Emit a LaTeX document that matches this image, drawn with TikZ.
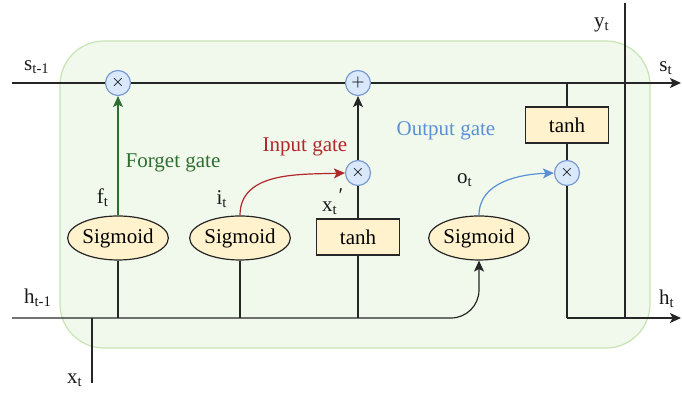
\documentclass[tikz,border=0pt]{standalone}
\usepackage{fontspec}
\setmainfont{Liberation Serif}
\usetikzlibrary{arrows.meta,shapes.geometric}
\definecolor{cellfill}{HTML}{F0F9EC}
\definecolor{celldraw}{HTML}{C8E4B4}
\definecolor{opfill}{HTML}{DAE8FC}
\definecolor{opdraw}{HTML}{7B9BD0}
\definecolor{actfill}{HTML}{FFF2CC}
\definecolor{fgreen}{HTML}{2E6E30}
\definecolor{ired}{HTML}{B0282A}
\definecolor{oblue}{HTML}{5B91D4}
\begin{document}
\begin{tikzpicture}[x=0.5pt,y=-0.5pt, font=\fontsize{10.5}{12}\selectfont,
 line/.style={line width=0.6pt, draw=black!85},
 arr/.style={-{Stealth[length=5.5pt,width=5pt,inset=1.3pt]}},
 op/.style={circle, draw=opdraw, fill=opfill, line width=0.6pt, minimum size=12.5pt, inner sep=0pt, font=\fontsize{8.5}{9}\selectfont},
 sig/.style={ellipse, draw=black!85, fill=actfill, line width=0.6pt, minimum width=44pt, minimum height=22pt, inner sep=0pt},
 act/.style={rectangle, draw=black!85, fill=actfill, line width=0.6pt, minimum width=41.5pt, minimum height=18pt, inner sep=0pt},
 lbl/.style={inner sep=0pt, text=black!90},
 gatelbl/.style={inner sep=0pt, font=\fontsize{10.5}{12}\selectfont}]
\useasboundingbox (0,0) rectangle (682,394);
\draw[draw=celldraw, fill=cellfill, rounded corners=22pt, line width=0.6pt] (60,41) rectangle (650,348);

% coordinates
\coordinate (sin) at (12,83);
\coordinate (sout) at (681,83);
\coordinate (hin) at (12,318);
\coordinate (hout) at (681,318);
\coordinate (xin) at (92,383);
\coordinate (xj) at (92,318);
\coordinate (j1) at (118,318);
\coordinate (j2) at (240,318);
\coordinate (j3) at (358,318);
\coordinate (tj) at (567,83);
\coordinate (bj) at (567,318);
\coordinate (ytop) at (625,3);
\coordinate (ybot) at (625,318);

% nodes
\node[op] (mulF) at (118,83) {$\times$};
\node[op] (plus) at (358,83) {$+$};
\node[op] (mulI) at (358,173) {$\times$};
\node[op] (mulO) at (567,173) {$\times$};
\node[act] (tanhT) at (567,125) {tanh};
\node[act] (tanhI) at (358,237) {tanh};
\node[sig] (sig1) at (118,238) {Sigmoid};
\node[sig] (sig2) at (240,238) {Sigmoid};
\node[sig] (sig3) at (479,238) {Sigmoid};

% main lines
\draw[line] (sin) -- (mulF) -- (plus);
\draw[line,arr] (plus) -- (sout);
\draw[line,arr,rounded corners=14pt] (hin) -| (sig3.south);
\draw[line] (xj) -- (xin);
\draw[line] (sig1.south) -- (j1);
\draw[line] (sig2.south) -- (j2);
\draw[line] (tanhI.south) -- (j3);
\draw[line] (tanhI.north) -- (mulI.south);
\draw[line,arr] (mulI.north) -- (plus.south);
\draw[line] (tj) -- (tanhT.north);
\draw[line] (tanhT.south) -- (mulO.north);
\draw[line] (mulO.south) -- (bj);
\draw[line,arr] (bj) -- (hout);
\draw[line] (ytop) -- (ybot);

% gates
\draw[line width=0.6pt, draw=fgreen, arr] (sig1.north) -- (mulF.south);
\draw[line width=0.6pt, draw=ired, arr] (sig2.north) to[out=90,in=182] (mulI.west);
\draw[line width=0.6pt, draw=oblue, arr] (sig3.north) to[out=90,in=182] (mulO.west);

% labels
\node[lbl] (ls1) at (37,67) {s\textsubscript{t-1}};
\node[lbl] (lh1) at (38,298) {h\textsubscript{t-1}};
\node[lbl] (lx) at (75,380) {x\textsubscript{t}};
\node[lbl] (ly) at (602,25) {y\textsubscript{t}};
\node[lbl] (ls) at (666,68) {s\textsubscript{t}};
\node[lbl] (lh) at (667,299) {h\textsubscript{t}};
\node[lbl] (lf) at (103,198) {f\textsubscript{t}};
\node[lbl] (li) at (222,199) {i\textsubscript{t}};
\node[lbl] (lo) at (465,180) {o\textsubscript{t}};
\node[lbl] (lxt) at (330,208) {x\textsubscript{t}};
\node[lbl] (lprime) at (341,196) {′};
\node[gatelbl, text=fgreen] (gF) at (173,163) {Forget gate};
\node[gatelbl, text=ired] (gI) at (305,147) {Input gate};
\node[gatelbl, text=oblue] (gO) at (446,131) {Output gate};
\end{tikzpicture}
\end{document}
